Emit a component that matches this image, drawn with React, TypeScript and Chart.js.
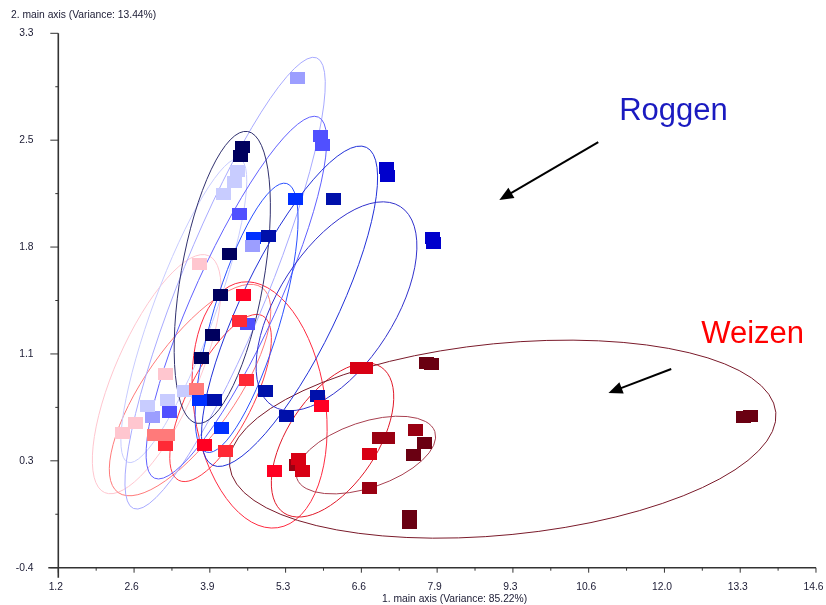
import React, { useEffect, useRef } from "react";
import { Chart, registerables } from "chart.js";

Chart.register(...registerables);

// ---- axes ----
const xTickValues = [1.24, 2.58, 3.92, 5.26, 6.6, 7.94, 9.28, 10.62, 11.96, 13.3, 14.64];
const xTickLabels = ["1.2", "2.6", "3.9", "5.3", "6.6", "7.9", "9.3", "10.6", "12.0", "13.3", "14.6"];
const yTickValues = [-0.42, 0.32, 1.06, 1.8, 2.54, 3.28];
const yTickLabels = ["-0.4", "0.3", "1.1", "1.8", "2.5", "3.3"];
const xAxisTitle = "1. main axis (Variance: 85.22%)";
const yAxisTitle = "2. main axis (Variance: 13.44%)";

// ---- Weizen (wheat) samples: [axis1, axis2] ----
const wPink = [[3.74, 1.68], [3.14, 0.92], [2.6, 0.58], [2.37, 0.51]];
const wSalmon = [[2.95, 0.5], [3.18, 0.5], [3.69, 0.82]];
const wRed = [[3.13, 0.43], [4.45, 1.29], [4.57, 0.88], [4.19, 0.39]];
const wBright = [[4.52, 1.47], [3.83, 0.43], [5.07, 0.25], [5.9, 0.7]];
const wCrimson = [[6.54, 0.96], [6.68, 0.96], [6.75, 0.37], [5.49, 0.33], [5.56, 0.25]];
const wDark = [[5.46, 0.29], [6.92, 0.48], [7.07, 0.48], [6.75, 0.13], [7.56, 0.53]];
const wMaroon = [[7.75, 1.0], [7.84, 0.99], [13.35, 0.62], [13.49, 0.63], [7.72, 0.44], [7.52, 0.36], [7.45, -0.06], [7.45, -0.11]];

// ---- Roggen (rye) samples ----
const rPalest = [[4.41, 2.33], [4.36, 2.25], [4.17, 2.17], [2.81, 0.7], [3.18, 0.74], [3.48, 0.8]];
const rLavender = [[5.47, 2.97], [4.68, 1.81], [2.91, 0.62]];
const rMedium = [[5.88, 2.57], [5.92, 2.51], [4.45, 2.03], [4.59, 1.27], [3.21, 0.66]];
const rNavy = [[4.5, 2.49], [4.47, 2.43], [4.27, 1.75], [4.1, 1.47], [3.97, 1.19], [3.78, 1.03]];
const rBright = [[5.44, 2.13], [4.7, 1.86], [4.13, 0.55], [3.74, 0.74]];
const rDark = [[6.11, 2.13], [4.96, 1.88], [4.91, 0.8], [5.83, 0.77], [5.28, 0.63], [4.01, 0.74]];
const rDeep = [[7.05, 2.35], [7.06, 2.29], [7.86, 1.86], [7.88, 1.83]];

// ---- confidence ellipses: [centre x, centre y, semi-axis dx, semi-axis dy, minor/major ratio] ----
const eWPink = [2.98, 0.92, 0.92, 0.82, 0.32];
const eWSalmon = [3.57, 0.81, 1.27, 0.71, 0.36];
const eWRed = [4.11, 0.755, 0.74, 0.57, 0.35];
const eWBright = [4.8, 0.707, -0.32, 0.85, 0.53];
const eWCrimson = [6.09, 0.464, 0.86, 0.505, 0.51];
const eWDark = [6.68, 0.36, 1.22, 0.162, 0.45];
const eWMaroon = [9.1, 0.47, 4.83, 0.186, 0.349];
const eRLavender = [4.19, 1.55, 1.62, 1.56, 0.18];
const eRPalest = [3.46, 1.36, 0.99, 1.05, 0.19];
const eRMedium = [4.39, 1.45, 1.45, 1.25, 0.21];
const eRNavy = [4.14, 1.59, 0.45, 1.01, 0.28];
const eRBright = [4.57, 1.31, 0.71, 0.93, 0.24];
const eRDark = [5.33, 1.39, 1.36, 1.1, 0.27];
const eRDeep = [6.16, 1.39, 1.13, 0.69, 0.49];

const groups = [
  { pts: wPink, ell: eWPink, color: "#ffc6cf", line: "#ffc6cf" },
  { pts: wSalmon, ell: eWSalmon, color: "#ff7a7a", line: "#ff7a7a" },
  { pts: wRed, ell: eWRed, color: "#ff2a36", line: "#ff3a46" },
  { pts: wBright, ell: eWBright, color: "#ff0022", line: "#ff2a40" },
  { pts: wCrimson, ell: eWCrimson, color: "#d80014", line: "#e01828" },
  { pts: wDark, ell: eWDark, color: "#990012", line: "#a84050" },
  { pts: wMaroon, ell: eWMaroon, color: "#6a0012", line: "#7a1a2a" },
  { pts: rPalest, ell: eRPalest, color: "#c8ccff", line: "#c8ccff" },
  { pts: rLavender, ell: eRLavender, color: "#9c9eff", line: "#a8aaff" },
  { pts: rMedium, ell: eRMedium, color: "#5050ff", line: "#6060ff" },
  { pts: rNavy, ell: eRNavy, color: "#00005e", line: "#30306e" },
  { pts: rBright, ell: eRBright, color: "#0030ff", line: "#2a50ff" },
  { pts: rDark, ell: eRDark, color: "#0010aa", line: "#2030d8" },
  { pts: rDeep, ell: eRDeep, color: "#0000cc", line: "#3030cc" },
];

// annotations (data coordinates)
const roggenLabel = { text: "Roggen", x: 11.16, y: 2.68, color: "#1a1ac0" };
const weizenLabel = { text: "Weizen", x: 12.61, y: 1.136, color: "#ff0000" };
const arrows = [
  { from: [10.79, 2.527], to: [9.04, 2.126] },
  { from: [12.08, 0.956], to: [10.97, 0.79] },
];

const FONT = "'Liberation Sans', Arial, Helvetica, sans-serif";
const TARGET = { left: 58.3, right: 816.7, top: 33.3, bottom: 567.7 };

function makeBox(color: string) {
  const c = document.createElement("canvas");
  c.width = 15;
  c.height = 12;
  const g = c.getContext("2d")!;
  g.fillStyle = color;
  g.fillRect(0, 0, 15, 12);
  return c;
}

const overlayPlugin = {
  id: "overlay",
  beforeDatasetsDraw(chart: any) {
    const { ctx } = chart;
    const xs = chart.scales.x;
    const ys = chart.scales.y;
    ctx.save();
    for (const g of groups) {
      const [cx, cy, ux, uy, r] = g.ell;
      const px = xs.getPixelForValue(cx);
      const py = ys.getPixelForValue(cy);
      const mx = xs.getPixelForValue(cx + ux) - px;
      const my = ys.getPixelForValue(cy + uy) - py;
      const nx = -my * r;
      const ny = mx * r;
      ctx.save();
      ctx.beginPath();
      ctx.transform(mx, my, nx, ny, px, py);
      ctx.arc(0, 0, 1, 0, Math.PI * 2);
      ctx.restore();
      ctx.strokeStyle = g.line;
      ctx.lineWidth = 1;
      ctx.stroke();
    }
    ctx.restore();
  },
  afterDraw(chart: any) {
    const { ctx } = chart;
    const xs = chart.scales.x;
    const ys = chart.scales.y;
    const left = xs.getPixelForValue(xTickValues[0]);
    const right = xs.getPixelForValue(xTickValues[xTickValues.length - 1]);
    const bottom = ys.getPixelForValue(yTickValues[0]);
    const top = ys.getPixelForValue(yTickValues[yTickValues.length - 1]);
    ctx.save();
    // axis lines
    ctx.strokeStyle = "#333";
    ctx.lineWidth = 1.6;
    ctx.beginPath();
    ctx.moveTo(left, top);
    ctx.lineTo(left, bottom + 10);
    ctx.moveTo(left - 10, bottom);
    ctx.lineTo(right, bottom);
    ctx.stroke();
    // ticks
    ctx.lineWidth = 1;
    ctx.beginPath();
    yTickValues.forEach((v, i) => {
      const p = ys.getPixelForValue(v);
      ctx.moveTo(left - 8, p);
      ctx.lineTo(left, p);
      if (i < yTickValues.length - 1) {
        const m = ys.getPixelForValue((v + yTickValues[i + 1]) / 2);
        ctx.moveTo(left - 3, m);
        ctx.lineTo(left, m);
      }
    });
    xTickValues.forEach((v, i) => {
      const p = xs.getPixelForValue(v);
      ctx.moveTo(p, bottom);
      ctx.lineTo(p, bottom + 5);
      if (i < xTickValues.length - 1) {
        const m = xs.getPixelForValue((v + xTickValues[i + 1]) / 2);
        ctx.moveTo(m, bottom);
        ctx.lineTo(m, bottom + 3);
      }
    });
    ctx.stroke();
    // axis titles
    ctx.fillStyle = "#1a1a33";
    ctx.font = `10.3px ${FONT}`;
    ctx.textBaseline = "middle";
    ctx.textAlign = "left";
    ctx.fillText(yAxisTitle, 11, 15.5);
    ctx.fillText(xAxisTitle, 382, 599);
    // annotation labels
    ctx.font = `31px ${FONT}`;
    ctx.textBaseline = "alphabetic";
    for (const lab of [roggenLabel, weizenLabel]) {
      ctx.fillStyle = lab.color;
      ctx.fillText(lab.text, xs.getPixelForValue(lab.x), ys.getPixelForValue(lab.y));
    }
    // arrows
    ctx.strokeStyle = "#000";
    ctx.fillStyle = "#000";
    ctx.lineWidth = 2;
    for (const a of arrows) {
      const x0 = xs.getPixelForValue(a.from[0]);
      const y0 = ys.getPixelForValue(a.from[1]);
      const x1 = xs.getPixelForValue(a.to[0]);
      const y1 = ys.getPixelForValue(a.to[1]);
      const dx = x1 - x0;
      const dy = y1 - y0;
      const len = Math.hypot(dx, dy);
      const ux = dx / len;
      const uy = dy / len;
      const hl = 14;
      const hw = 6;
      const bx = x1 - ux * hl;
      const by = y1 - uy * hl;
      ctx.beginPath();
      ctx.moveTo(x0, y0);
      ctx.lineTo(bx + ux * 2, by + uy * 2);
      ctx.stroke();
      ctx.beginPath();
      ctx.moveTo(x1, y1);
      ctx.lineTo(bx - uy * hw, by + ux * hw);
      ctx.lineTo(bx + uy * hw, by - ux * hw);
      ctx.closePath();
      ctx.fill();
    }
    ctx.restore();
  },
};

export default function App() {
  const ref = useRef<HTMLCanvasElement | null>(null);

  useEffect(() => {
    if (!ref.current) return;
    const datasets = groups.map((g, i) => ({
      label: `g${i}`,
      data: g.pts.map(([x, y]) => ({ x, y })),
      pointStyle: makeBox(g.color) as any,
      pointRadius: 7,
      pointHoverRadius: 7,
      showLine: false,
      backgroundColor: g.color,
      borderColor: g.color,
    }));
    const padding = { top: TARGET.top, right: 826 - TARGET.right, left: 0, bottom: 0 };
    const chart = new Chart(ref.current, {
      type: "scatter",
      data: { datasets },
      options: {
        animation: false,
        responsive: false,
        events: [],
        layout: { autoPadding: false, padding: { ...padding } } as any,
        plugins: { legend: { display: false }, tooltip: { enabled: false } },
        scales: {
          x: {
            type: "linear",
            min: xTickValues[0],
            max: xTickValues[xTickValues.length - 1],
            afterBuildTicks: (scale: any) => {
              scale.ticks = xTickValues.map((v) => ({ value: v }));
            },
            afterFit: (scale: any) => {
              scale.height = 605 - TARGET.bottom;
            },
            grid: { display: false, drawTicks: false },
            border: { display: false },
            ticks: {
              autoSkip: false,
              maxRotation: 0,
              minRotation: 0,
              padding: 0,
              labelOffset: -2.5,
              color: "#1a1a33",
              // tall line box pushes the single-line labels below the axis
              font: { family: FONT, size: 10.3, lineHeight: "38.6px" },
              callback: (_v: any, i: number) => xTickLabels[i],
            },
          },
          y: {
            type: "linear",
            min: yTickValues[0],
            max: yTickValues[yTickValues.length - 1],
            afterBuildTicks: (scale: any) => {
              scale.ticks = yTickValues.map((v) => ({ value: v }));
            },
            afterFit: (scale: any) => {
              scale.width = TARGET.left;
            },
            grid: { display: false, drawTicks: false },
            border: { display: false },
            ticks: {
              autoSkip: false,
              padding: 24.8,
              color: "#1a1a33",
              font: { family: FONT, size: 10.3 },
              callback: (_v: any, i: number) => yTickLabels[i],
            },
          },
        },
      },
      plugins: [overlayPlugin],
    });
    // make the plot area land exactly where the reference has it
    for (let k = 0; k < 4; k++) {
      const ca = chart.chartArea;
      const dr = ca.right - TARGET.right;
      const dt = TARGET.top - ca.top;
      const db = ca.bottom - TARGET.bottom;
      const dl = TARGET.left - ca.left;
      if (Math.abs(dr) < 0.2 && Math.abs(dt) < 0.2 && Math.abs(db) < 0.2 && Math.abs(dl) < 0.2) break;
      padding.right += dr;
      padding.top += dt;
      padding.bottom += db;
      padding.left += dl;
      (chart.options as any).layout.padding = { ...padding };
      chart.update();
    }
    return () => chart.destroy();
  }, []);

  return (
    <div style={{ position: "fixed", left: 0, top: 0, width: 826, height: 605, background: "#fff" }}>
      <canvas ref={ref} width={826} height={605} style={{ display: "block" }} />
    </div>
  );
}
